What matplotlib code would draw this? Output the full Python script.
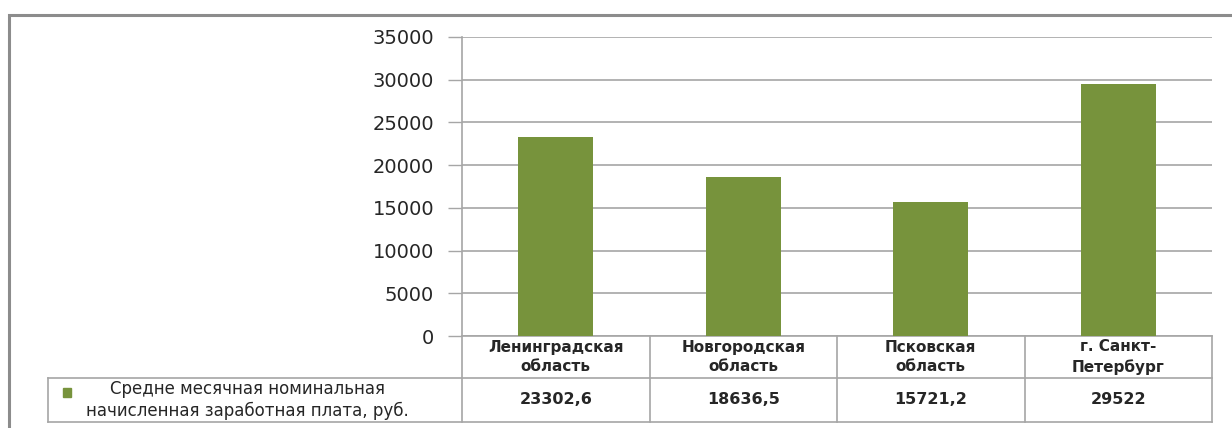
import numpy as np
import matplotlib.pyplot as plt
from matplotlib.patches import Rectangle
from matplotlib.lines import Line2D

plt.rcParams['font.family'] = ['DejaVu Sans']

regions = ['Ленинградская\nобласть', 'Новгородская\nобласть',
           'Псковская\nобласть', 'г. Санкт-\nПетербург']
salary = [23302.6, 18636.5, 15721.2, 29522]
salary_labels = ['23302,6', '18636,5', '15721,2', '29522']
series_name = 'Средне месячная номинальная\nначисленная заработная плата, руб.'

green = '#77933C'
grid_c = '#A6A6A6'
txt_c = '#262626'

W, H = 1232, 428
fig = plt.figure(figsize=(W / 100, H / 100), dpi=100)

# plot area in pixels
x0, x1 = 462, 1212
y_top, y_zero = 37, 336
ax = fig.add_axes([x0 / W, (H - y_zero) / H, (x1 - x0) / W, (y_zero - y_top) / H])

n = len(regions)
x = np.arange(n)
ax.bar(x, salary, width=0.4, color=green, zorder=3)
ax.set_xlim(-0.5, n - 0.5)
ax.set_ylim(0, 35000)
ax.set_yticks(np.arange(0, 35001, 5000))
ax.set_yticklabels([str(v) for v in range(0, 35001, 5000)], fontsize=14, color=txt_c)
ax.yaxis.grid(True, color=grid_c, linewidth=1.2)
ax.set_axisbelow(True)
ax.tick_params(axis='y', length=10, width=1, color=grid_c, pad=10)
ax.tick_params(axis='x', length=0, labelbottom=False)
for s in ['top', 'right', 'bottom']:
    ax.spines[s].set_visible(False)
ax.spines['left'].set_color(grid_c)
ax.spines['left'].set_linewidth(1.2)

# data table under the axes (axes fraction for y, data units for x)
h_px = y_zero - y_top
row1 = -(378 - y_zero) / h_px
row2 = -(422 - y_zero) / h_px
leg_x = -0.5 - (x0 - 48) / ((x1 - x0) / n)
tr = ax.get_xaxis_transform()

def hline(xa, xb, y):
    ax.add_line(Line2D([xa, xb], [y, y], transform=tr, color=grid_c, lw=1.2, clip_on=False))

def vline(xv, ya, yb):
    ax.add_line(Line2D([xv, xv], [ya, yb], transform=tr, color=grid_c, lw=1.2, clip_on=False))

hline(-0.5, n - 0.5, 0)
hline(leg_x, n - 0.5, row1)
hline(leg_x, n - 0.5, row2)
for i in range(n + 1):
    vline(i - 0.5, 0, row2)
vline(leg_x, row1, row2)

for i in range(n):
    ax.text(i, row1 / 2, regions[i], transform=tr, ha='center', va='center',
            fontsize=11, fontweight='bold', color=txt_c, linespacing=1.35)
    ax.text(i, (row1 + row2) / 2, salary_labels[i], transform=tr, ha='center', va='center',
            fontsize=11.5, fontweight='bold', color=txt_c)

# legend key inside the table
ax.add_patch(Rectangle((leg_x + 0.08, (row1 + row2) / 2 + 0.01), 0.045, 0.03,
                       transform=tr, color=green, clip_on=False))
ax.text((leg_x - 0.5) / 2 - 0.04, (row1 + row2) / 2, series_name, transform=tr,
        ha='center', va='center', fontsize=12, color=txt_c, linespacing=1.3)

# outer chart frame
fig.add_artist(Rectangle((9 / W, -0.1), 1.2, (H - 15) / H + 0.1, transform=fig.transFigure,
                         fill=False, edgecolor='#8C8C8C', linewidth=2.2))

fig.savefig('out.png', dpi=100)
